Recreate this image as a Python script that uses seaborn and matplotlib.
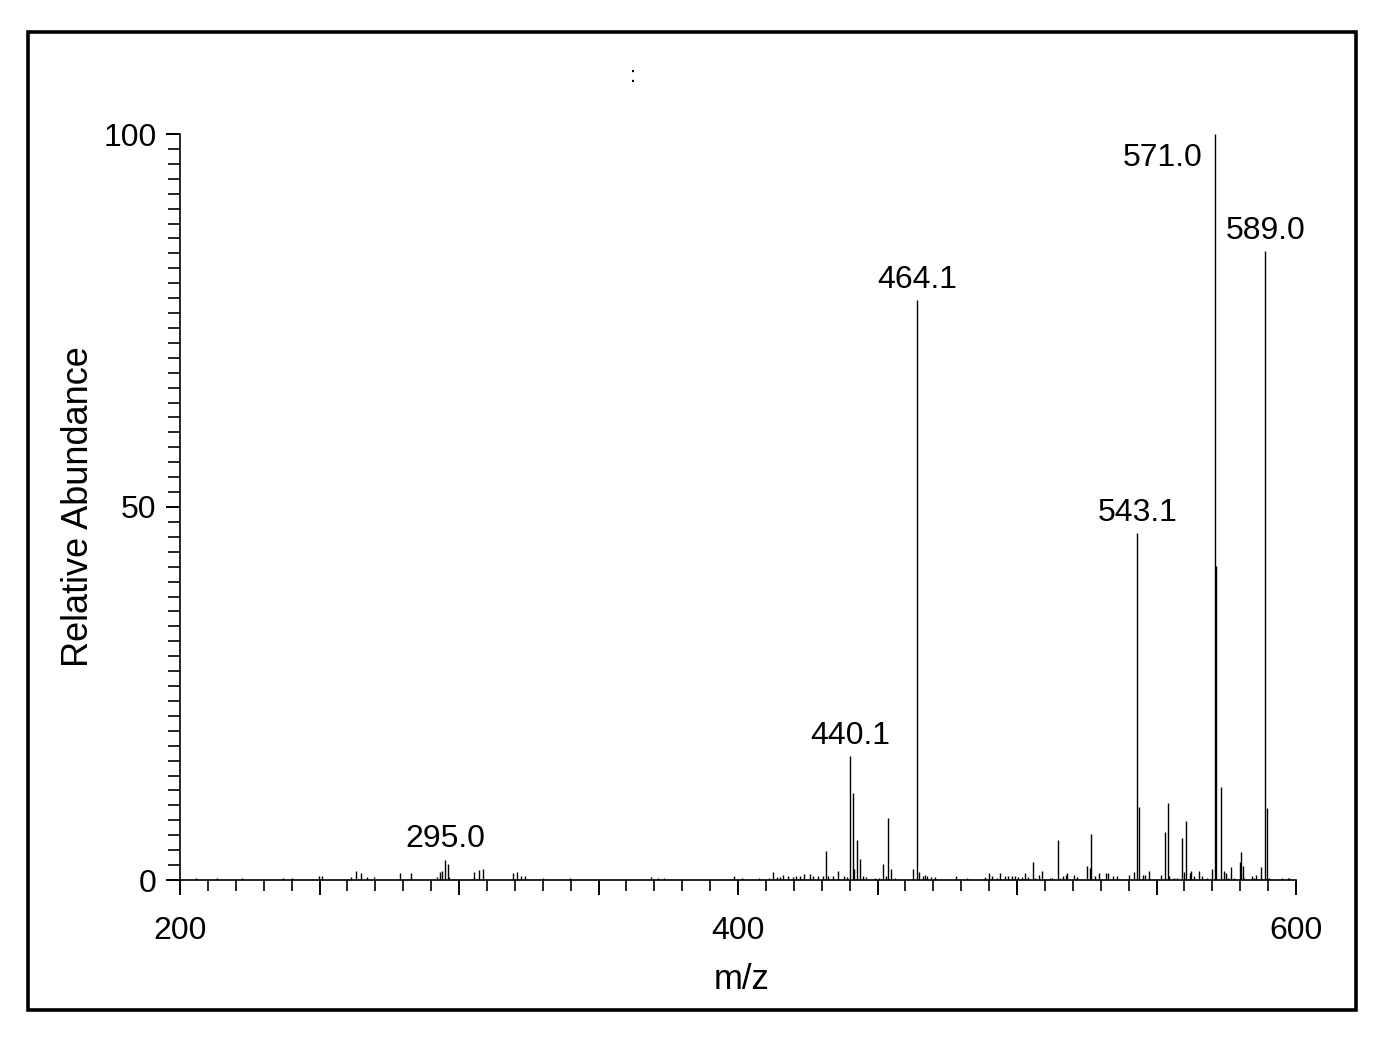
import numpy as np
import pandas as pd
import seaborn as sns
import matplotlib.pyplot as plt
from matplotlib.patches import Rectangle
from matplotlib.ticker import MultipleLocator

# centroid peaks (m/z, relative abundance)
mz = [205.7, 213.4, 222.1, 237.0, 240.2, 249.7, 250.9, 261.2, 263.0, 264.8,
      266.9, 269.5, 278.9, 282.7, 292.1, 293.2, 294.0, 295.0, 296.0, 296.5,
      305.4, 307.3, 308.7, 319.5, 320.7, 322.1, 323.6, 330.0, 339.8, 368.7,
      371.4, 373.6, 398.7, 401.3, 407.6, 411.2, 412.6, 413.8, 415.0, 416.3,
      418.0, 419.8, 420.7, 422.2, 423.7, 425.7, 427.0, 428.8, 430.3, 431.7,
      432.3, 433.9, 436.0, 438.0, 439.2, 440.1, 441.2, 441.6, 442.7, 443.8,
      444.9, 445.9, 449.1, 450.6, 452.1, 453.1, 453.7, 454.7, 456.3, 462.8,
      464.1, 465.0, 466.2, 467.2, 467.8, 469.3, 470.5, 478.1, 482.2, 488.5,
      489.8, 491.0, 493.0, 493.9, 495.7, 496.9, 498.1, 499.3, 500.5, 501.7,
      502.9, 504.1, 505.8, 506.5, 508.0, 508.8, 511.8, 512.6, 514.6, 515.3,
      516.5, 517.6, 517.9, 520.3, 521.6, 525.0, 526.0, 526.6, 528.0, 529.4,
      531.9, 532.7, 534.5, 535.7, 540.3, 542.1, 543.1, 543.6, 545.0, 545.8,
      547.3, 551.5, 552.9, 554.0, 554.5, 556.3, 557.4, 559.3, 559.7, 560.6,
      562.0, 562.4, 563.4, 565.3, 566.4, 568.2, 570.0, 571.0, 571.4, 573.0,
      574.2, 574.8, 575.6, 576.8, 577.6, 579.8, 580.4, 580.9, 581.5, 584.1,
      585.0, 585.8, 587.6, 589.0, 589.7, 590.5, 594.9, 597.0, 597.4]
abundance = [0.3, 0.3, 0.3, 0.3, 0.3, 0.6, 0.6, 0.4, 1.2, 0.9,
             0.4, 0.4, 1.0, 1.0, 0.4, 1.1, 1.2, 2.7, 2.2, 0.4,
             1.1, 1.3, 1.5, 0.9, 1.1, 0.6, 0.5, 0.3, 0.3, 0.4,
             0.3, 0.3, 0.5, 0.3, 0.3, 0.3, 1.1, 0.4, 0.4, 0.7,
             0.6, 0.4, 0.5, 0.6, 0.8, 0.8, 0.5, 0.6, 0.6, 3.9,
             0.5, 0.5, 1.2, 0.6, 0.45, 16.6, 11.7, 1.5, 5.4, 2.8,
             0.5, 0.35, 0.3, 0.3, 2.1, 0.5, 8.3, 1.5, 0.3, 1.5,
             77.7, 1.1, 0.5, 0.7, 0.5, 0.45, 0.35, 0.5, 0.3, 0.45,
             0.9, 0.5, 0.3, 0.9, 0.5, 0.5, 0.6, 0.6, 0.35, 0.35,
             0.9, 0.35, 2.4, 0.3, 0.7, 1.2, 0.3, 0.3, 5.4, 0.3,
             0.5, 0.7, 0.9, 0.7, 0.45, 1.9, 1.6, 6.2, 0.6, 1.0,
             0.9, 0.9, 0.55, 0.55, 0.7, 1.1, 46.5, 9.8, 0.7, 0.7,
             1.2, 0.7, 6.4, 10.3, 0.55, 0.3, 0.3, 5.6, 1.1, 7.9,
             1.0, 1.2, 0.55, 1.2, 0.55, 0.3, 1.5, 100.0, 42.1, 12.5,
             1.2, 0.9, 0.3, 1.7, 0.3, 2.4, 3.8, 1.9, 0.3, 0.55,
             0.3, 0.7, 1.7, 84.3, 9.7, 0.3, 0.3, 0.3, 0.3]
labelled_mz = [295.0, 440.1, 464.1, 543.1, 571.0, 589.0]
x_tick_labels = ["200", "", "", "", "400", "", "", "", "600"]
y_tick_labels = ["0", "50", "100"]

df = pd.DataFrame({"mz": mz, "abundance": abundance})

sns.set_style("ticks")
plt.rcParams['font.family'] = ['Liberation Sans', 'DejaVu Sans']
plt.rcParams.update({"text.color": "black", "axes.labelcolor": "black",
                     "xtick.color": "black", "ytick.color": "black"})

fig = plt.figure(figsize=(13.8, 10.48), dpi=100)
ax = fig.add_axes([180 / 1380, 168 / 1048, 1116 / 1380, 746 / 1048])

ax.vlines(df["mz"], 0, df["abundance"], color="black", lw=1.0)

# peak labels
for m in labelled_mz:
    h = df.loc[(df["mz"] - m).abs().idxmin(), "abundance"]
    if h >= 99:
        ax.annotate(f"{m:.1f}", (m, h), xytext=(-9, -23), textcoords="offset points",
                    ha="right", va="baseline", fontsize=23)
    else:
        ax.annotate(f"{m:.1f}", (m, h), xytext=(0, 9), textcoords="offset points",
                    ha="center", va="baseline", fontsize=23)

ax.set_xlim(200, 600)
ax.set_ylim(0, 100)
ax.set_xticks(np.arange(200, 601, 50))
ax.set_xticklabels(x_tick_labels)
ax.xaxis.set_minor_locator(MultipleLocator(10))
ax.set_yticks([0, 50, 100])
ax.set_yticklabels(y_tick_labels)
ax.yaxis.set_minor_locator(MultipleLocator(2))

ax.tick_params(axis="x", which="major", length=10.8, width=1.4, pad=15, labelsize=23)
ax.tick_params(axis="x", which="minor", length=8, width=1.2)
ax.tick_params(axis="y", which="major", length=10, width=1.4, pad=7, labelsize=23)
ax.tick_params(axis="y", which="minor", length=9, width=1.2)

for s in ["left", "bottom"]:
    ax.spines[s].set_linewidth(1.2)
    ax.spines[s].set_color("black")
sns.despine(ax=ax)

ax.set_xlabel("m/z", fontsize=25)
ax.set_ylabel("Relative Abundance", fontsize=26)
ax.xaxis.set_label_coords(0.5036, -0.111)
ax.yaxis.set_label_coords(-0.075, 0.5)

fig.text(633 / 1380, 1 - 76 / 1048, ":", ha="center", va="center", fontsize=16)
fig.add_artist(Rectangle((28 / 1380, 38 / 1048), 1328 / 1380, 978 / 1048,
                         transform=fig.transFigure, fill=False, lw=2.6, color="black"))

plt.savefig("out.png", dpi=100)
